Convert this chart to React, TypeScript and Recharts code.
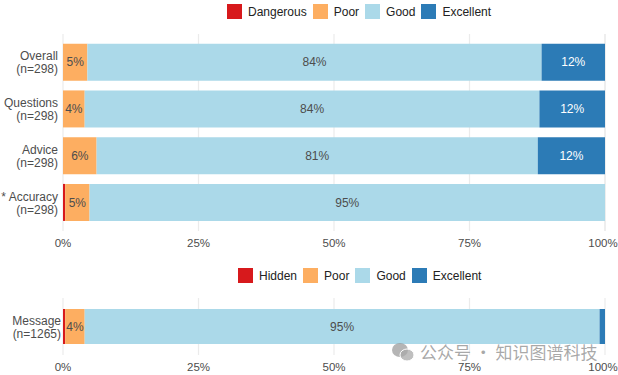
import React from 'react';
import { BarChart, Bar, XAxis, YAxis, CartesianGrid, LabelList } from 'recharts';

// top panel: rating share per category (percent)
const topCategories = ['Overall', 'Questions', 'Advice', '* Accuracy'];
const topCounts = ['(n=298)', '(n=298)', '(n=298)', '(n=298)'];
const dangerous = [0, 0, 0, 0.4];
const poorTop = [4.5, 4.0, 6.2, 4.5];
const goodTop = [83.8, 83.9, 81.4, 95.1];
const excellentTop = [11.7, 12.1, 12.4, 0];

// bottom panel
const bottomCategories = ['Message'];
const bottomCounts = ['(n=1265)'];
const hidden = [0.4];
const poorBottom = [3.6];
const goodBottom = [95.0];
const excellentBottom = [1.0];

const xTicks = [0, 25, 50, 75, 100];

const COLORS = { red: '#d7191c', poor: '#fdae61', good: '#abd9e9', excellent: '#2c7bb6' };
const TEXT = '#4d4d4d';
const FONT = '"Liberation Sans", Arial, sans-serif';

const topData = topCategories.map((name, i) => ({
  name,
  dangerous: dangerous[i],
  poor: poorTop[i],
  good: goodTop[i],
  excellent: excellentTop[i],
}));

const bottomData = bottomCategories.map((name, i) => ({
  name,
  hidden: hidden[i],
  poor: poorBottom[i],
  good: goodBottom[i],
  excellent: excellentBottom[i],
}));

const pct = (v: any) => (Number(v) >= 2 ? `${Math.round(Number(v))}%` : '');

const makeTick = (cats: string[], counts: string[], shift: number) => (props: any) => {
  const { x, y, payload } = props;
  const n = counts[cats.indexOf(payload.value)];
  return (
    <text x={x + shift} y={y} textAnchor="end" fill={TEXT} fontSize={12}>
      <tspan x={x + shift} dy={-2}>{payload.value}</tspan>
      <tspan x={x + shift} dy={13}>{n}</tspan>
    </text>
  );
};

// keep the "100%" label inside the page edge
const XTick = (props: any) => {
  const { x, y, payload } = props;
  const dx = payload.value === 100 ? -2 : 0;
  return (
    <text x={x + dx} y={y} dy="0.71em" textAnchor="middle" fill={TEXT} fontSize={11.5}>
      {`${payload.value}%`}
    </text>
  );
};

const LegendRow = ({ items, top, left }: { items: { label: string; color: string }[]; top: number; left: number }) => (
  <div style={{ position: 'absolute', top, left, display: 'flex', alignItems: 'center', fontSize: 12, color: '#222', fontFamily: FONT }}>
    {items.map((it) => (
      <div key={it.label} style={{ display: 'flex', alignItems: 'center', marginRight: 6 }}>
        <span style={{ width: 15, height: 15, background: it.color, display: 'inline-block', marginRight: 6 }} />
        <span>{it.label}</span>
      </div>
    ))}
  </div>
);

const segment = (key: string, color: string, labelColor: string, size?: number) => (
  <Bar key={key} dataKey={key} stackId="a" fill={color} barSize={size} isAnimationActive={false}>
    <LabelList dataKey={key} position="center" formatter={pct} fill={labelColor} fontSize={12} />
  </Bar>
);

export default function App() {
  return (
    <div style={{ position: 'absolute', top: 0, left: 0, width: 618, height: 375, background: '#fff', fontFamily: FONT }}>
      <LegendRow
        top={4}
        left={227}
        items={[
          { label: 'Dangerous', color: COLORS.red },
          { label: 'Poor', color: COLORS.poor },
          { label: 'Good', color: COLORS.good },
          { label: 'Excellent', color: COLORS.excellent },
        ]}
      />
      <div style={{ position: 'absolute', top: 0, left: 0 }}>
        <BarChart width={618} height={255} data={topData} layout="vertical" margin={{ top: 34, right: 13, bottom: 0, left: 0 }}>
          <CartesianGrid horizontal={false} stroke="#ebebeb" strokeWidth={1.2} />
          <XAxis
            type="number"
            domain={[0, 100]}
            ticks={xTicks}
            interval={0}
            axisLine={false}
            tickLine={false}
            height={24}
            tick={<XTick />}
          />
          <YAxis
            type="category"
            dataKey="name"
            width={63}
            axisLine={false}
            tickLine={false}
            padding={{ top: 5, bottom: 5 }}
            tick={makeTick(topCategories, topCounts, 3)}
          />
          {segment('dangerous', COLORS.red, TEXT)}
          {segment('poor', COLORS.poor, TEXT)}
          {segment('good', COLORS.good, TEXT)}
          {segment('excellent', COLORS.excellent, '#ffffff')}
        </BarChart>
      </div>
      <LegendRow
        top={268}
        left={238}
        items={[
          { label: 'Hidden', color: COLORS.red },
          { label: 'Poor', color: COLORS.poor },
          { label: 'Good', color: COLORS.good },
          { label: 'Excellent', color: COLORS.excellent },
        ]}
      />
      <div style={{ position: 'absolute', top: 255, left: 0 }}>
        <BarChart width={618} height={120} data={bottomData} layout="vertical" margin={{ top: 43, right: 13, bottom: 0, left: 0 }}>
          <CartesianGrid horizontal={false} stroke="#ebebeb" strokeWidth={1.2} />
          <XAxis
            type="number"
            domain={[0, 100]}
            ticks={xTicks}
            interval={0}
            axisLine={false}
            tickLine={false}
            height={20}
            tick={<XTick />}
          />
          <YAxis
            type="category"
            dataKey="name"
            width={63}
            axisLine={false}
            tickLine={false}
            tick={makeTick(bottomCategories, bottomCounts, 6)}
          />
          {segment('hidden', COLORS.red, TEXT, 35)}
          {segment('poor', COLORS.poor, TEXT)}
          {segment('good', COLORS.good, TEXT)}
          {segment('excellent', COLORS.excellent, '#ffffff')}
        </BarChart>
      </div>
      {/* watermark */}
      <div style={{ position: 'absolute', left: 391, top: 339, display: 'flex', alignItems: 'center', color: 'rgba(140,140,140,0.75)', fontSize: 17, fontFamily: '"Noto Sans CJK SC", sans-serif' }}>
        <svg width={24} height={20} style={{ marginRight: 5 }}>
          <ellipse cx={9} cy={8} rx={8} ry={7} fill="rgba(150,150,150,0.7)" />
          <ellipse cx={16} cy={13} rx={7} ry={6} fill="rgba(170,170,170,0.75)" stroke="#fff" strokeWidth={1} />
        </svg>
        <span>公众号 · 知识图谱科技</span>
      </div>
    </div>
  );
}
